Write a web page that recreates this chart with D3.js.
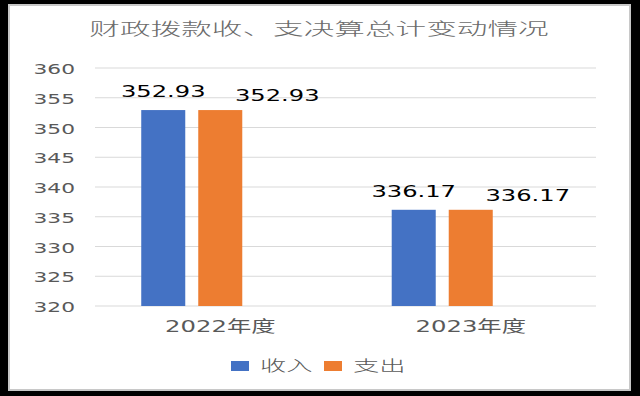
<!DOCTYPE html>
<html>
<head>
<meta charset="utf-8">
<script src="https://cdn.jsdelivr.net/npm/d3@7.9.0/dist/d3.min.js"></script>
<style>
  html, body { margin: 0; padding: 0; background: #000; }
  svg { display: block; }
  text { font-family: "DejaVu Sans", "Noto Sans CJK SC", sans-serif; }
  .cjk-light { font-weight: 300; }
</style>
</head>
<body>
<svg id="chart" width="640" height="396"></svg>
<script>
const title = "财政拨款收、支决算总计变动情况";
const categories = ["2022年度", "2023年度"];
const seriesNames = ["收入", "支出"];
const incomeValues = [352.93, 336.17];
const expenseValues = [352.93, 336.17];
const yTicks = [320, 325, 330, 335, 340, 345, 350, 355, 360];

const colors = ["#4472C4", "#ED7D31"];
const textGray = "#595959";
const gridGray = "#D9D9D9";

const svg = d3.select("#chart");
const plot = { left: 95, right: 596, top: 68, bottom: 306 };

// stretched text, like the source picture
function stretchedText(sel, x, y, sx) {
  return sel.attr("transform", `translate(${x},${y}) scale(${sx},1)`);
}

// white panel
svg.append("rect")
  .attr("x", 9).attr("y", 5)
  .attr("width", 621).attr("height", 385)
  .attr("fill", "#fff")
  .attr("stroke", "#c8c8c8")
  .attr("stroke-width", 2);

const y = d3.scaleLinear().domain([320, 360]).range([plot.bottom, plot.top]);

const x0 = d3.scaleBand()
  .domain(categories)
  .range([plot.left, plot.right])
  .paddingInner(0.369)
  .paddingOuter(0.1846);

// third slot is an empty series placeholder in the original chart
const x1 = d3.scaleBand()
  .domain([...seriesNames, ""])
  .range([0, x0.bandwidth()])
  .paddingInner(0.228);

// gridlines
svg.append("g")
  .selectAll("line")
  .data(yTicks)
  .join("line")
  .attr("x1", plot.left).attr("x2", plot.right)
  .attr("y1", (d) => y(d)).attr("y2", (d) => y(d))
  .attr("stroke", gridGray)
  .attr("stroke-width", 1);

// y tick labels
svg.append("g")
  .selectAll("text")
  .data(yTicks)
  .join("text")
  .attr("text-anchor", "end")
  .attr("dominant-baseline", "central")
  .attr("font-size", 14.5)
  .attr("fill", textGray)
  .text((d) => d)
  .each(function (d) {
    stretchedText(d3.select(this), 75, y(d) + 1, 1.5);
  });

const rows = categories.map((c, i) => ({
  category: c,
  values: [incomeValues[i], expenseValues[i]],
}));

const groups = svg.append("g")
  .selectAll("g")
  .data(rows)
  .join("g")
  .attr("transform", (d) => `translate(${x0(d.category)},0)`);

groups.selectAll("rect")
  .data((d) => d.values.map((v, k) => ({ key: seriesNames[k], value: v, k })))
  .join("rect")
  .attr("x", (d) => x1(d.key))
  .attr("width", x1.bandwidth())
  .attr("y", (d) => y(d.value))
  .attr("height", (d) => y(320) - y(d.value))
  .attr("fill", (d) => colors[d.k]);

// data labels (the orange ones were dragged to the right in the original)
groups.selectAll("text")
  .data((d) => d.values.map((v, k) => ({ key: seriesNames[k], value: v, k })))
  .join("text")
  .attr("text-anchor", "middle")
  .attr("font-size", 15.5)
  .attr("fill", "#000")
  .text((d) => d.value.toFixed(2))
  .each(function (d) {
    const cx = x1(d.key) + x1.bandwidth() / 2 + (d.k === 1 ? 57 : 0);
    const by = y(d.value) - (d.k === 1 ? 9 : 13);
    stretchedText(d3.select(this), cx, by, 1.56);
  });

// category labels
svg.append("g")
  .selectAll("text")
  .data(categories)
  .join("text")
  .attr("text-anchor", "middle")
  .attr("font-size", 16)
  .attr("fill", textGray)
  .text((d) => d)
  .each(function (d) {
    stretchedText(d3.select(this), x0(d) + x0.bandwidth() / 2, 332, 1.52);
  });

// title
stretchedText(
  svg.append("text")
    .attr("class", "cjk-light")
    .attr("text-anchor", "middle")
    .attr("font-size", 17.5)
    .attr("fill", "#6b6b6b")
    .text(title),
  319, 35, 1.75
);

// legend
const legendItems = [
  { name: seriesNames[0], color: colors[0], x: 231 },
  { name: seriesNames[1], color: colors[1], x: 324 },
];
const legend = svg.append("g");
legendItems.forEach((item) => {
  legend.append("rect")
    .attr("x", item.x).attr("y", 361)
    .attr("width", 18).attr("height", 10)
    .attr("fill", item.color);
  stretchedText(
    legend.append("text")
      .attr("class", "cjk-light")
      .attr("font-size", 15)
      .attr("fill", textGray)
      .attr("dominant-baseline", "central")
      .text(item.name),
    item.x + 29, 366, 1.75
  );
});
</script>
</body>
</html>
